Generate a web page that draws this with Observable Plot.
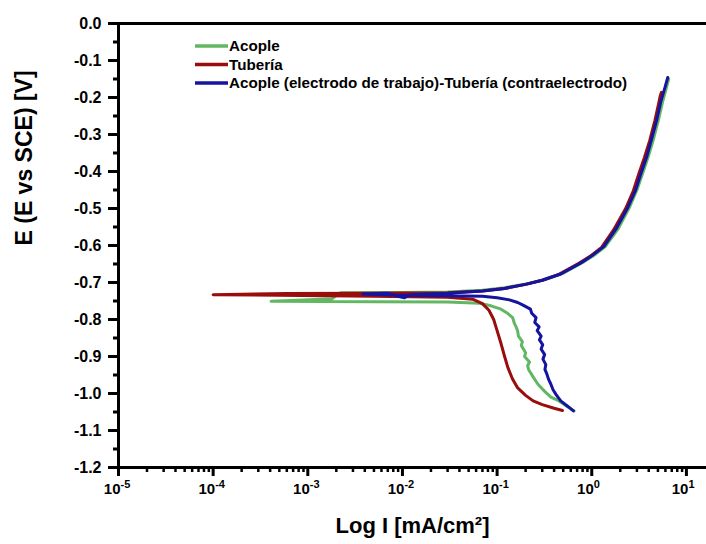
<!DOCTYPE html>
<html><head><meta charset="utf-8">
<script src="https://cdn.jsdelivr.net/npm/d3@7"></script>
<script src="https://cdn.jsdelivr.net/npm/@observablehq/plot@0.6"></script>
<style>
html,body{margin:0;padding:0;background:#fff;}
#chart svg{display:block;}
#chart svg text{font-weight:bold;}
</style></head><body><div id="chart"></div>
<script>
// ---- data ----
const seriesNames = ["Acople", "Tubería", "Acople (electrodo de trabajo)-Tubería (contraelectrodo)"];
const seriesColors = ["#62b862", "#990d0d", "#1414a0"];

const acopleI = [0.65,0.55,0.45,0.37,0.32,0.27,0.24,0.215,0.21,0.22,0.195,0.2,0.18,0.185,0.168,0.165,0.16,0.152,0.146,0.13,0.11,0.086,0.065,0.03,0.005,0.00041,0.0009,0.0018,0.0022,0.01,0.03,0.07,0.12,0.21,0.32,0.5,0.81,1.05,1.4,1.9,2.5,3.0,3.45,3.95,4.45,5.05,5.6,6.2,6.5];
const acopleE = [-1.047,-1.035,-1.020,-1.010,-0.995,-0.975,-0.955,-0.935,-0.925,-0.915,-0.900,-0.890,-0.870,-0.860,-0.845,-0.832,-0.822,-0.810,-0.795,-0.784,-0.772,-0.763,-0.756,-0.753,-0.752,-0.751,-0.747,-0.744,-0.728,-0.727,-0.726,-0.721,-0.714,-0.703,-0.692,-0.675,-0.645,-0.627,-0.602,-0.555,-0.497,-0.450,-0.405,-0.360,-0.316,-0.262,-0.212,-0.170,-0.150];

const tuberiaI = [0.49,0.40,0.30,0.24,0.20,0.165,0.145,0.13,0.12,0.11,0.10,0.092,0.082,0.07,0.055,0.03,0.005,0.0001,0.0006,0.004,0.03,0.07,0.12,0.2,0.3,0.45,0.73,0.95,1.27,1.7,2.28,2.75,3.15,3.6,4.1,4.65,5.1,5.3,5.45];
const tuberiaE = [-1.046,-1.040,-1.030,-1.020,-1.005,-0.985,-0.960,-0.930,-0.900,-0.865,-0.830,-0.800,-0.775,-0.757,-0.745,-0.740,-0.737,-0.733,-0.730,-0.729,-0.728,-0.723,-0.716,-0.705,-0.694,-0.678,-0.648,-0.630,-0.605,-0.558,-0.500,-0.452,-0.405,-0.362,-0.316,-0.262,-0.215,-0.195,-0.186];

const acopleTubI = [0.64,0.56,0.47,0.42,0.39,0.37,0.35,0.335,0.32,0.327,0.305,0.318,0.292,0.303,0.28,0.292,0.265,0.278,0.25,0.258,0.232,0.225,0.19,0.165,0.135,0.10,0.07,0.03,0.012,0.0038,0.007,0.009,0.0105,0.012,0.03,0.07,0.12,0.2,0.3,0.47,0.77,1.0,1.34,1.8,2.4,2.9,3.3,3.8,4.25,4.85,5.35,5.95,6.35];
const acopleTubE = [-1.047,-1.035,-1.020,-1.003,-0.990,-0.975,-0.962,-0.947,-0.935,-0.922,-0.907,-0.895,-0.880,-0.868,-0.855,-0.845,-0.830,-0.820,-0.808,-0.795,-0.783,-0.772,-0.762,-0.754,-0.747,-0.741,-0.737,-0.736,-0.735,-0.731,-0.729,-0.737,-0.741,-0.733,-0.729,-0.723,-0.716,-0.705,-0.694,-0.677,-0.647,-0.628,-0.603,-0.556,-0.498,-0.451,-0.406,-0.361,-0.316,-0.262,-0.212,-0.172,-0.146];

const decades = [1e-5, 1e-4, 1e-3, 1e-2, 1e-1, 1, 10];
const decadeExps = ["-5", "-4", "-3", "-2", "-1", "0", "1"];
const minorMult = [2, 3, 4, 5, 6, 7, 8, 9];
const yMajor = [0, -0.1, -0.2, -0.3, -0.4, -0.5, -0.6, -0.7, -0.8, -0.9, -1.0, -1.1, -1.2];
const yMinor = [-0.05, -0.15, -0.25, -0.35, -0.45, -0.55, -0.65, -0.75, -0.85, -0.95, -1.05, -1.15];
const xTitle = "Log I [mA/cm²]";
const yTitle = "E (E vs SCE) [V]";

// ---- build ----
const minorX = decades.slice(0, -1).flatMap(d => minorMult.map(m => d * m));
const rows = [];
[[acopleI, acopleE], [tuberiaI, tuberiaE], [acopleTubI, acopleTubE]].forEach(([I, E], k) => {
  I.forEach((v, i) => rows.push({s: seriesNames[k], I: v, E: E[i]}));
});

const svg = Plot.plot({
  width: 706, height: 544,
  marginLeft: 118, marginRight: 0, marginTop: 23, marginBottom: 77,
  style: {fontFamily: "Arial, 'Liberation Sans', sans-serif", background: "#fff", color: "#000"},
  x: {type: "log", domain: [1e-5, 16.3]},
  y: {domain: [-1.2, 0]},
  color: {domain: seriesNames, range: seriesColors},
  marks: [
    Plot.axisY(yMajor, {tickSize: 10, tickPadding: 7, tickFormat: d => d.toFixed(1), fontSize: 16, strokeWidth: 3, label: null}),
    Plot.axisY(yMinor, {tickSize: 5, tickFormat: () => "", strokeWidth: 3, label: null}),
    Plot.axisX(decades, {tickSize: 9, tickFormat: () => "", strokeWidth: 3, label: null}),
    Plot.axisX(minorX, {tickSize: 5, tickFormat: () => "", strokeWidth: 2.5, label: null}),
    Plot.ruleX([1e-5], {strokeWidth: 3}),
    Plot.ruleY([-1.2, 0], {strokeWidth: 3}),
    Plot.text(decades, {x: d => d, text: () => "10", frameAnchor: "bottom", textAnchor: "end", dx: 2, dy: 26, fontSize: 15}),
    Plot.text(decades, {x: d => d, text: (d, i) => decadeExps[i], frameAnchor: "bottom", textAnchor: "start", dx: 2, dy: 20, fontSize: 11}),
    Plot.text([xTitle], {frameAnchor: "bottom", dy: 65, fontSize: 22}),
    Plot.text([yTitle], {frameAnchor: "left", rotate: -90, dx: -94, fontSize: 23, ariaLabel: "ytitle"}),
    Plot.line(rows, {x: "I", y: "E", z: "s", stroke: "s", strokeWidth: 3, strokeLinejoin: "round"})
  ]
});

d3.select(svg).select('[aria-label="ytitle"] text')
  .attr("textLength", 239).attr("lengthAdjust", "spacingAndGlyphs");

// legend
const lg = d3.select(svg).append("g").attr("font-size", 15.2).attr("font-weight", "bold").attr("text-anchor", "start");
const rowY = [46, 64.5, 83];
seriesNames.forEach((n, i) => {
  lg.append("line").attr("x1", 195).attr("x2", 228).attr("y1", rowY[i]).attr("y2", rowY[i])
    .attr("stroke", seriesColors[i]).attr("stroke-width", 3.5);
  lg.append("text").attr("x", 229).attr("y", rowY[i] + 5).attr("fill", "#000").text(n);
});

document.getElementById("chart").appendChild(svg);
</script></body></html>
